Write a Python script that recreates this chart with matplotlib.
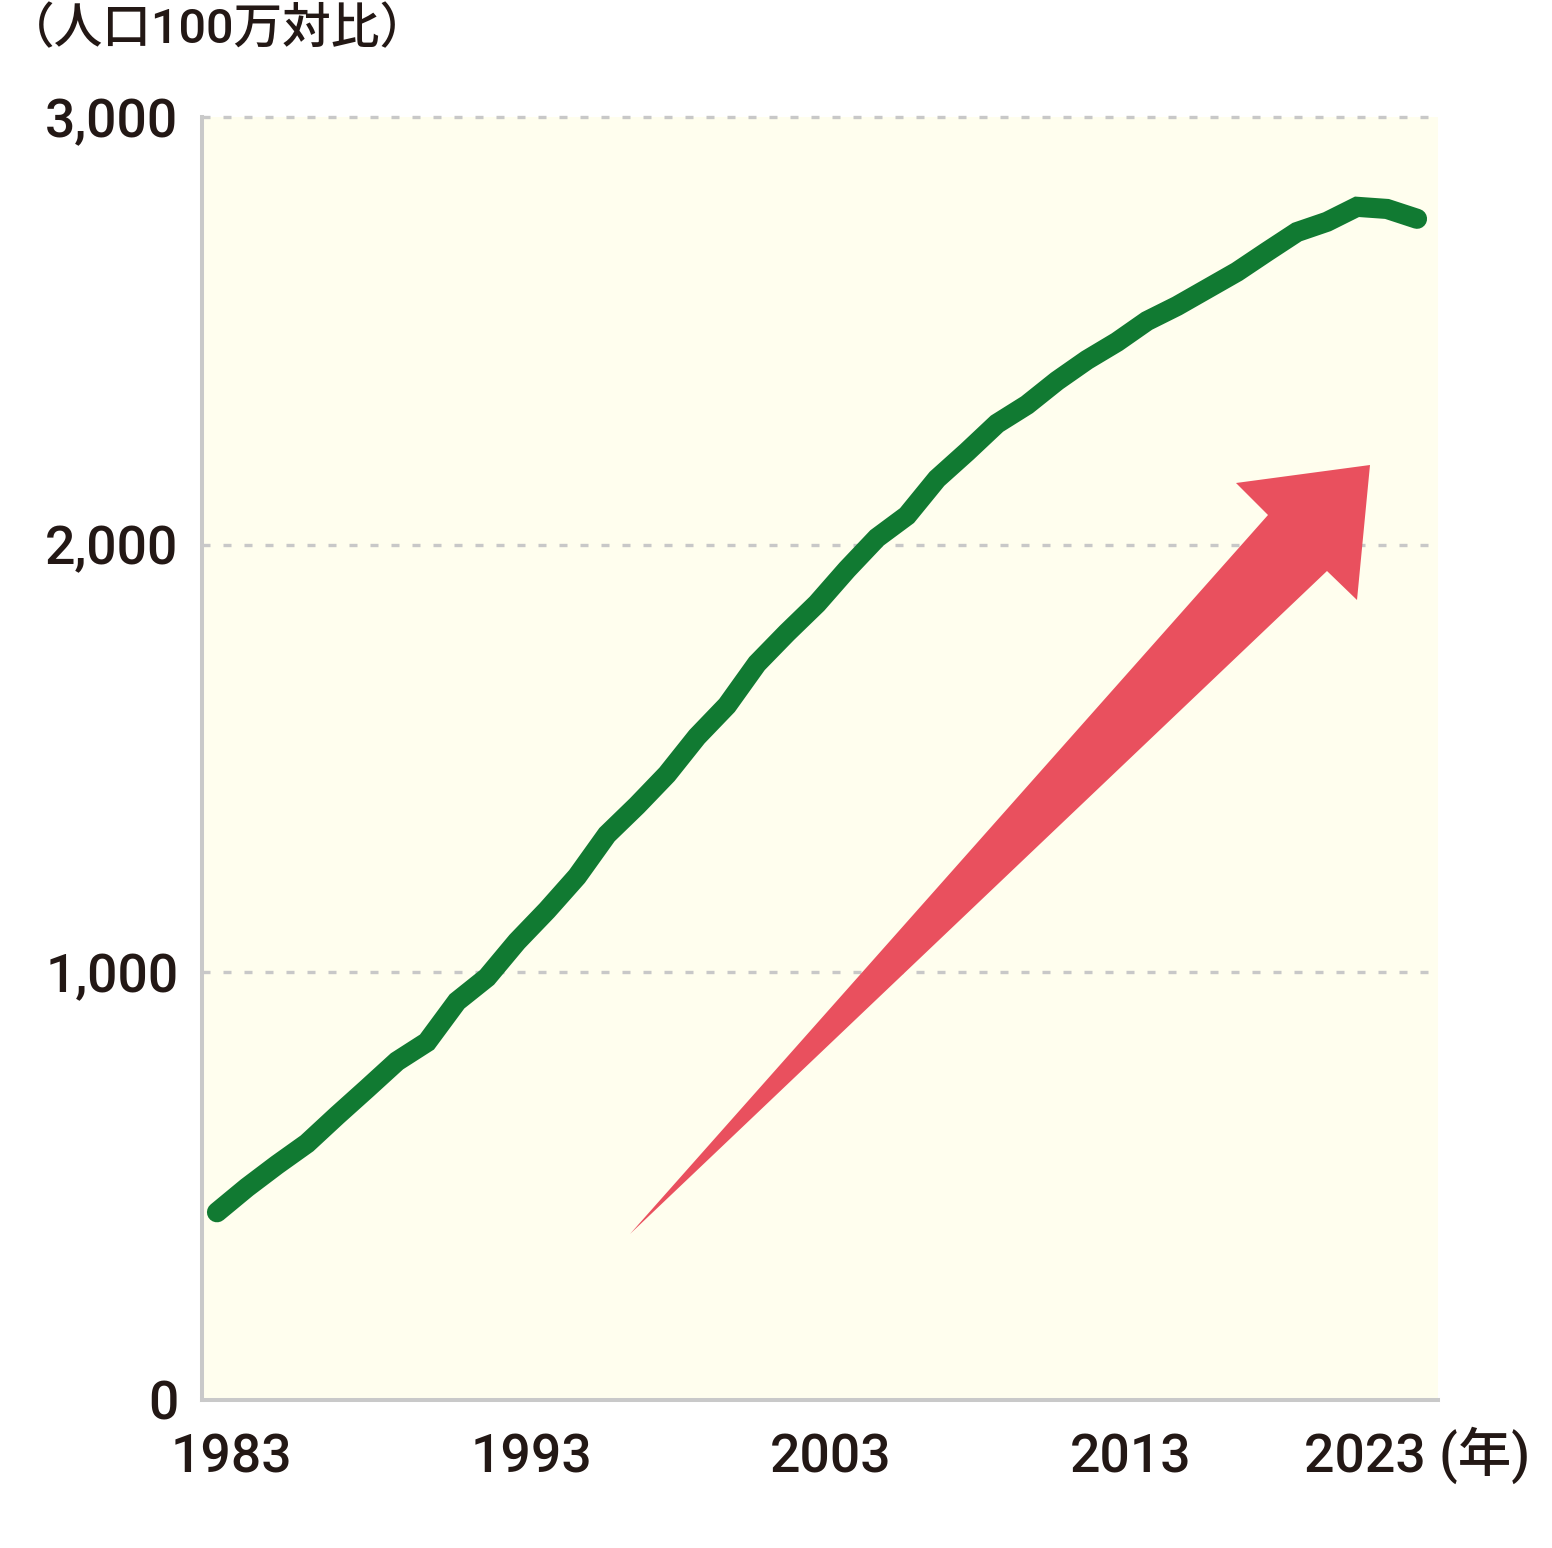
import matplotlib
matplotlib.use("Agg")
import matplotlib.pyplot as plt
from matplotlib.patches import Polygon
from matplotlib.transforms import ScaledTranslation
from matplotlib.ticker import FuncFormatter

plt.rcParams['font.family'] = ['Roboto', 'Noto Sans CJK JP', 'DejaVu Sans']
plt.rcParams['font.weight'] = 'medium'

# ---- data ----
years = list(range(1983, 2024))
values = [439, 497, 550, 600, 665, 728, 792, 837, 932, 988,
          1072, 1145, 1224, 1322, 1390, 1463, 1551, 1624, 1722, 1794,
          1862, 1942, 2016, 2068, 2154, 2217, 2283, 2327, 2383, 2432,
          2474, 2523, 2558, 2598, 2638, 2685, 2731, 2755, 2790, 2785,
          2762]
x_ticks = [1983, 1993, 2003, 2013, 2023]
x_tick_labels = ["1983", "1993", "2003", "2013", "2023 (年)"]
y_ticks = [0, 1000, 2000, 3000]
y_unit_label = "（人口100万対比）"

TEXT = '#231815'
GREEN = '#117a32'
RED = '#e9505e'
GRID = '#c8c8c8'
BG = '#fffeee'

W, H = 1552, 1548
fig = plt.figure(figsize=(W / 100, H / 100), dpi=100)
ax = fig.add_axes([202 / W, 1 - 1400 / H, (1438 - 202) / W, (1400 - 117) / H])
ax.set_facecolor(BG)

ax.set_xlim(1982.5, 2023.7)
ax.set_ylim(0, 3000)

for s in ['top', 'right']:
    ax.spines[s].set_visible(False)
for s in ['left', 'bottom']:
    ax.spines[s].set_color('#c9c9c9')
    ax.spines[s].set_linewidth(2.9)
    ax.spines[s].set_zorder(4)

# grid
ax.set_yticks(y_ticks)
ax.yaxis.set_major_formatter(FuncFormatter(lambda v, p: f"{int(v):,}"))
ax.yaxis.grid(True, color=GRID, linewidth=2.4, linestyle=(0, (2.4, 3.9)))
for gl in ax.get_ygridlines():
    gl.set_clip_on(False)
ax.get_ygridlines()[0].set_visible(False)
ax.set_axisbelow(True)

ax.set_xticks(x_ticks)
ax.set_xticklabels(x_tick_labels)

ax.tick_params(axis='both', length=0, labelsize=38.5, labelcolor=TEXT)
ax.tick_params(axis='y', pad=17)
ax.tick_params(axis='x', pad=23.5)

off = ScaledTranslation(14 / 100, 0, fig.dpi_scale_trans)
for lbl in ax.get_xticklabels()[:-1]:
    lbl.set_transform(lbl.get_transform() + off)
last = ax.get_xticklabels()[-1]
last.set_transform(last.get_transform() +
                   ScaledTranslation(0, 6 / 100, fig.dpi_scale_trans))

# arrow (decorative, in axes fraction)
def px(xp, yp):
    return ((xp - 202) / (1438 - 202), (1400 - yp) / (1400 - 117))

arrow_pts = [px(630, 1234), px(1268, 515), px(1236, 483), px(1370, 465),
             px(1357, 600), px(1327, 571)]
ax.add_patch(Polygon(arrow_pts, closed=True, transform=ax.transAxes,
                     facecolor=RED, edgecolor='none', zorder=2))

# main line
ax.plot(years, values, color=GREEN, linewidth=14.5, solid_capstyle='round',
        solid_joinstyle='miter', zorder=3)

fig.text(6 / W, 1 - 30 / H, y_unit_label, fontsize=35, color=TEXT,
         ha='left', va='center')

fig.savefig("out.png", dpi=100)
